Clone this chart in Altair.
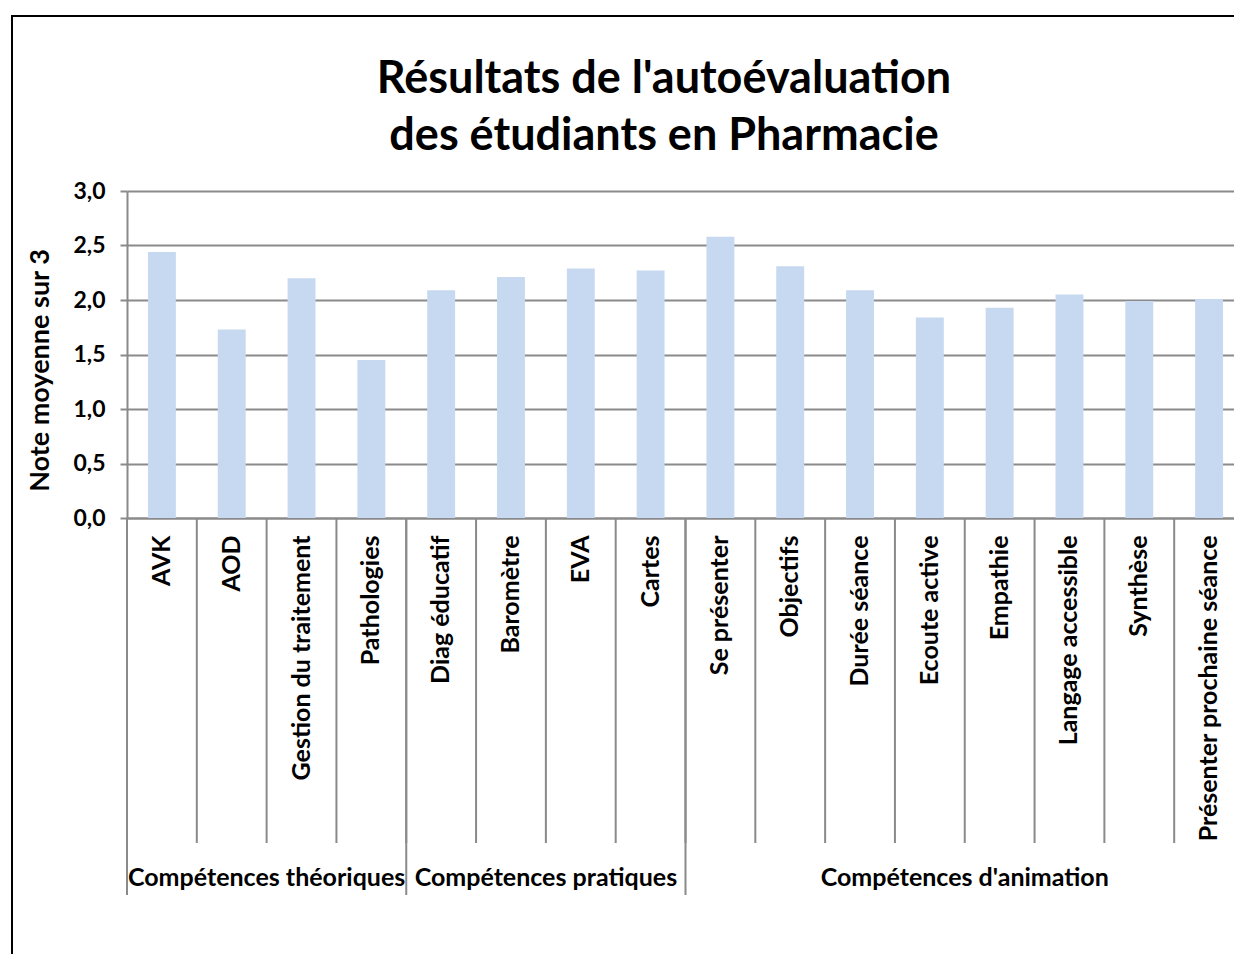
import altair as alt
import pandas as pd

categories = ["AVK", "AOD", "Gestion du traitement", "Pathologies",
              "Diag éducatif", "Baromètre", "EVA", "Cartes",
              "Se présenter", "Objectifs", "Durée séance", "Ecoute active",
              "Empathie", "Langage accessible", "Synthèse", "Présenter prochaine séance"]
values = [2.44, 1.73, 2.20, 1.45, 2.09, 2.21, 2.29, 2.27,
          2.58, 2.31, 2.09, 1.84, 1.93, 2.05, 1.99, 2.01]
group_names = ["Compétences théoriques", "Compétences pratiques", "Compétences d'animation"]
group_sizes = [4, 4, 8]
title_lines = ["Résultats de l'autoévaluation", "des étudiants en Pharmacie"]
y_title = "Note moyenne sur 3"
y_ticks = [0, 0.5, 1.0, 1.5, 2.0, 2.5, 3.0]

FONT = "Lato"
GRAY = "#8a8a8a"
W, H = 1107, 327
XR = 1117  # full category range (extends slightly past the visible frame)

df = pd.DataFrame({"cat": categories, "val": values})

starts, anchors = [], []
i = 0
for n in group_sizes:
    starts.append(categories[i])
    anchors.append(categories[i + n // 2 - 1])
    i += n
gdf = pd.DataFrame({"group": group_names, "start": starts, "anchor": anchors})
tdf = pd.DataFrame({"t": [title_lines]})

xscale = alt.Scale(domain=categories, paddingInner=0, paddingOuter=0, range=[0, XR])

bars = alt.Chart(df).mark_bar(
    color="#C6D9F0", width=alt.RelativeBandSize(0.4)
).encode(
    x=alt.X("cat:N", sort=categories, scale=xscale, title=None,
            axis=alt.Axis(labelAngle=270, labelAlign="right", labelBaseline="middle",
                          labelPadding=17, ticks=False, labelFontSize=25,
                          labelFont=FONT, labelFontWeight="bold", labelColor="black",
                          labelLimit=0, domainColor=GRAY, domainWidth=2, grid=False)),
    y=alt.Y("val:Q", scale=alt.Scale(domain=[0, 3], nice=False),
            axis=alt.Axis(values=y_ticks, title=y_title,
                          labelExpr="replace(format(datum.value, '.1f'), '.', ',')",
                          labelFont=FONT, labelFontSize=23, labelFontWeight="bold",
                          labelColor="black", labelPadding=15,
                          tickSize=7, tickWidth=2, tickColor=GRAY,
                          domainColor=GRAY, domainWidth=2,
                          grid=True, gridColor=GRAY, gridWidth=2,
                          titleFont=FONT, titleFontSize=27, titleFontWeight="bold",
                          titleColor="black", titleAngle=270, titleX=-87, titleY=179,
                          titleAlign="center", titleBaseline="middle")),
)

seps = alt.Chart(df).mark_rule(color=GRAY, strokeWidth=2).encode(
    x=alt.X("cat:N", sort=categories, scale=xscale, bandPosition=0),
    y=alt.value(H), y2=alt.value(H + 325),
)
gseps = alt.Chart(gdf).mark_rule(color=GRAY, strokeWidth=2).encode(
    x=alt.X("start:N", sort=categories, scale=xscale, bandPosition=0),
    y=alt.value(H), y2=alt.value(H + 377),
)
glabels = alt.Chart(gdf).mark_text(
    font=FONT, fontSize=25, fontWeight="bold", color="black", baseline="middle"
).encode(
    x=alt.X("anchor:N", sort=categories, scale=xscale, bandPosition=1),
    y=alt.value(H + 360),
    text="group:N",
)
title = alt.Chart(tdf).mark_text(
    font=FONT, fontSize=45, fontWeight="bold", color="black",
    baseline="middle", align="center", lineHeight=57
).encode(
    x=alt.value(537), y=alt.value(-112), text="t",
)
border = alt.Chart(pd.DataFrame({"k": [0]})).mark_rect(
    fill=None, stroke="black", strokeWidth=2
).encode(
    x=alt.value(-115), x2=alt.value(W + 60), y=alt.value(-175), y2=alt.value(H + 500),
)

chart = alt.layer(bars, seps, gseps, glabels, title, border).properties(
    width=W, height=H,
    autosize=alt.AutoSizeParams(type="none"),
    padding={"left": 119, "top": 183, "right": 0, "bottom": 436},
).configure_view(stroke=None).configure(background="white")

chart.save("out.html", embed_options={"renderer": "svg", "actions": False})
